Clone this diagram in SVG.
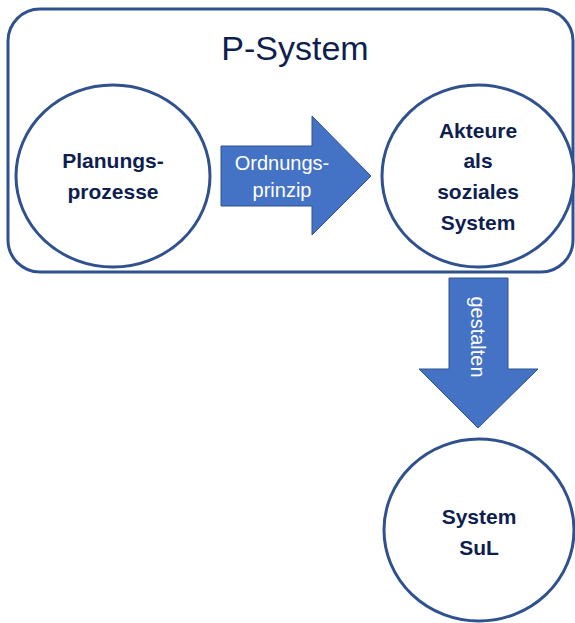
<svg xmlns="http://www.w3.org/2000/svg" width="575" height="623" viewBox="0 0 575 623">
<style>
.node{fill:#fff;stroke:#2F528F;stroke-width:3}
.lbl{font-family:"Liberation Sans",Arial,sans-serif;font-weight:bold;font-size:21px;fill:#0E1F4F;text-anchor:middle}
.arr{fill:#4472C4;stroke:#2F528F;stroke-width:1}
.alb{font-family:"Liberation Sans",Arial,sans-serif;font-size:20px;fill:#fff;text-anchor:middle}
</style>
<g id="p-system">
<rect x="8" y="9" width="565" height="263" rx="32" ry="32" fill="#fff" stroke="#2F528F" stroke-width="3"/>
<text x="295" y="60" font-family="'Liberation Sans',Arial,sans-serif" font-size="34" fill="#0E1F4F" text-anchor="middle">P-System</text>
</g>
<g id="planungsprozesse">
<ellipse class="node" cx="113" cy="176" rx="97" ry="91"/>
<text class="lbl" x="113" y="168">Planungs-</text>
<text class="lbl" x="113" y="199">prozesse</text>
</g>
<g id="akteure">
<ellipse class="node" cx="478" cy="176" rx="96" ry="91"/>
<text class="lbl" x="478" y="138">Akteure</text>
<text class="lbl" x="478" y="168">als</text>
<text class="lbl" x="478" y="199">soziales</text>
<text class="lbl" x="478" y="230">System</text>
</g>
<g id="sul">
<ellipse class="node" cx="479" cy="530" rx="95" ry="91"/>
<text class="lbl" x="479" y="524">System</text>
<text class="lbl" x="479" y="555">SuL</text>
</g>
<g id="connectors">
<g id="ordnungsprinzip">
<polygon class="arr" points="221,146 312,146 312,116 371,176 312,235 312,206 221,206"/>
<text class="alb" x="282" y="170">Ordnungs-</text>
<text class="alb" x="282" y="197">prinzip</text>
</g>
<g id="gestalten">
<polygon class="arr" points="449,278 508,278 508,369 538,369 478,428 419,369 449,369"/>
<text class="alb" transform="translate(471,337) rotate(90)" x="0" y="0">gestalten</text>
</g>
</g>
</svg>
